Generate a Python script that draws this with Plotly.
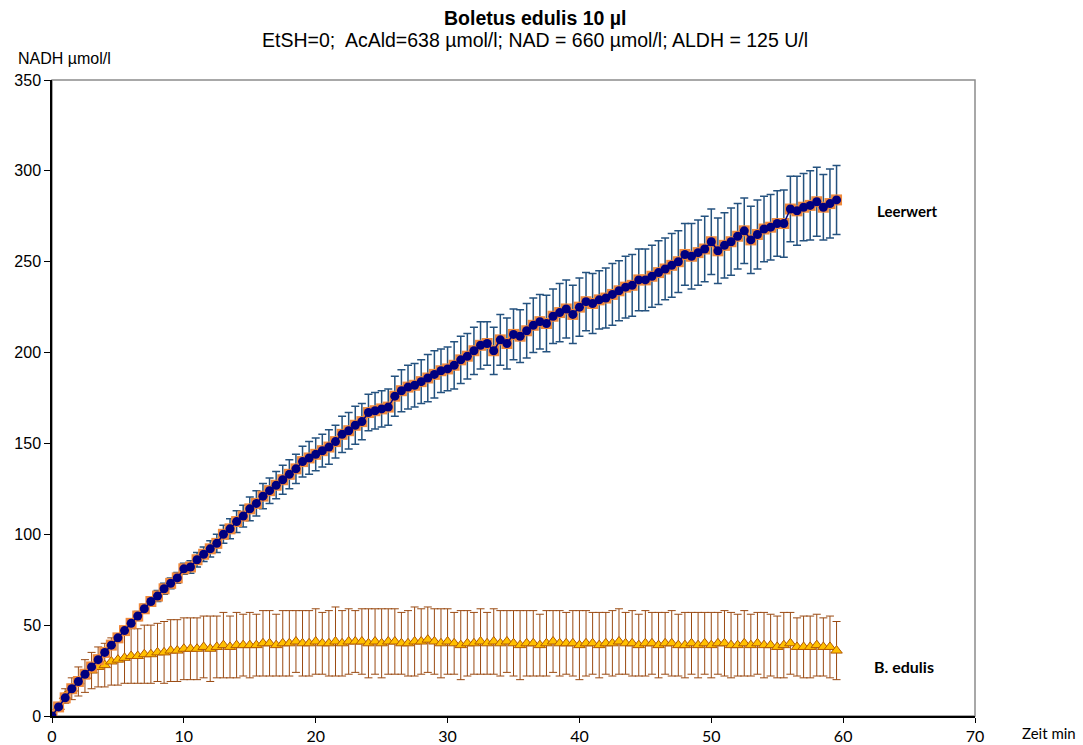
import plotly.graph_objects as go

# time in minutes, 0.5 min steps
time_min = [i * 0.5 for i in range(120)]

leerwert = [
    0, 5, 10, 15, 19, 23, 27, 31, 35, 39,
    43, 47, 51, 55, 59, 63, 66, 70, 73, 76,
    81, 82, 86, 89, 92, 95, 100, 103, 107, 110,
    114, 117, 121, 124, 127, 130, 133, 136, 140, 142,
    144, 146, 148, 151, 155, 157, 160, 162, 167, 168,
    169, 170, 176, 179, 181, 182, 184, 186, 188, 190,
    191, 193, 196, 198, 201, 204, 205, 201, 207, 205,
    210, 209, 212, 215, 217, 216, 220, 222, 224, 221,
    225, 228, 227, 229, 230, 232, 234, 236, 237, 240,
    240, 242, 244, 246, 248, 250, 254, 253, 255, 257,
    261, 256, 259, 261, 264, 267, 262, 265, 268, 269,
    271, 271, 279, 278, 280, 281, 283, 280, 282, 284,
]
leerwert_err = [
    0, 0.5, 0.5, 1, 1, 1, 1.5, 1.5, 1.5, 2,
    2, 2, 2, 2.5, 2.5, 2.5, 3, 3, 3, 3,
    3, 3.5, 4, 4, 4.5, 5, 5, 5.5, 6, 6,
    6.5, 7, 7, 7, 7.5, 8, 8, 8, 8.5, 9,
    9, 9, 9.5, 9, 10, 10, 10.5, 10, 10, 10,
    10, 10, 11, 11.5, 12, 12, 12, 13, 13, 12,
    12, 13, 13, 12.5, 13, 13, 12, 13, 14, 14,
    14, 14.5, 15, 15, 15, 15.5, 15, 16, 16, 16,
    16, 16, 16.5, 16, 16.5, 17, 16.5, 17, 17, 17,
    17, 17, 17.5, 17, 17.5, 17, 17, 18, 18, 18,
    18, 18, 18, 18.5, 18, 18, 18.5, 19, 18, 18,
    18, 18.5, 18, 19, 18.5, 19, 19, 18, 19, 19,
]
b_edulis = [
    0, 5, 11, 15, 19, 22, 25, 27, 28, 30,
    31, 32, 33, 33, 34, 34, 35, 35, 36, 36,
    37, 37, 37, 38, 37, 38, 39, 38, 39, 39,
    39, 39, 40, 40, 39, 40, 40, 41, 40, 40,
    41, 40, 40, 41, 40, 41, 41, 41, 40, 41,
    40, 41, 41, 40, 40, 41, 41, 42, 41, 40,
    41, 40, 39, 40, 40, 41, 40, 41, 40, 41,
    40, 39, 40, 40, 39, 40, 41, 40, 40, 40,
    39, 40, 40, 39, 40, 40, 41, 40, 40, 39,
    40, 40, 39, 40, 40, 39, 39, 40, 39, 40,
    39, 40, 40, 39, 39, 40, 39, 40, 39, 39,
    38, 39, 40, 38, 38, 38, 39, 38, 38, 36,
]
b_edulis_err = [
    0, 2, 4, 6, 8, 9, 10, 11, 12, 13,
    14, 14, 15, 15, 16, 16, 16, 17, 17, 17,
    17, 17, 17, 17, 18, 17, 18, 17, 18, 17,
    18, 17, 18, 18, 17, 18, 18, 17, 18, 18,
    18, 17, 18, 19, 18, 18, 17, 18, 19, 18,
    19, 18, 18, 17, 18, 19, 18, 18, 18, 19,
    18, 17, 19, 18, 17, 18, 17, 18, 18, 17,
    18, 19, 18, 18, 17, 18, 17, 18, 17, 18,
    19, 18, 17, 18, 17, 18, 18, 17, 18, 17,
    18, 17, 18, 17, 18, 17, 18, 17, 18, 17,
    18, 17, 18, 18, 17, 18, 17, 17, 18, 17,
    17, 18, 17, 16, 17, 17, 17, 16, 17, 16,
]

x_ticks = [0, 10, 20, 30, 40, 50, 60, 70]
y_ticks = [0, 50, 100, 150, 200, 250, 300, 350]

fig = go.Figure()

# B. edulis
fig.add_trace(go.Scatter(
    x=time_min, y=b_edulis, mode="lines+markers",
    line=dict(color="#2E8B8B", width=1),
    marker=dict(symbol="triangle-up", size=10, color="#FFC000",
                line=dict(color="#B35A00", width=1)),
    error_y=dict(type="data", array=b_edulis_err, visible=True,
                 color="#9A4A12", thickness=1, width=4),
    showlegend=False, hoverinfo="x+y",
))

# Leerwert orange halo
fig.add_trace(go.Scatter(
    x=time_min, y=leerwert, mode="markers",
    marker=dict(symbol="square", size=11, color="#F08A3C"),
    error_y=dict(type="data", array=leerwert_err, visible=True,
                 color="#24527F", thickness=1.5, width=4),
    showlegend=False, hoverinfo="skip",
))
# Leerwert
fig.add_trace(go.Scatter(
    x=time_min, y=leerwert, mode="lines+markers",
    line=dict(color="#000080", width=1.5),
    marker=dict(symbol="circle", size=9, color="#000080"),
    showlegend=False, hoverinfo="x+y",
))

fig.update_layout(
    width=1083, height=745,
    margin=dict(l=52, r=108, t=80, b=29),
    plot_bgcolor="white", paper_bgcolor="white",
    font=dict(family="Liberation Sans, Arial", size=13, color="black"),
    xaxis=dict(range=[0, 70], tickvals=x_ticks, ticks="outside", ticklen=5,
               tickcolor="black", showline=True, linecolor="black", linewidth=1.5,
               showgrid=False, zeroline=False, automargin=False,
               tickfont=dict(family="Lato, Open Sans", size=16)),
    yaxis=dict(range=[0, 350], tickvals=y_ticks, ticks="outside", ticklen=6,
               tickcolor="black", showline=True, linecolor="black", linewidth=1.5,
               showgrid=False, zeroline=False, automargin=False,
               tickfont=dict(family="Liberation Sans, Arial", size=16)),
    shapes=[dict(type="rect", xref="paper", yref="paper", x0=0, x1=1, y0=0, y1=1,
                 line=dict(color="#8C8C8C", width=1.5), layer="below")],
    annotations=[
        dict(text="<b>Boletus edulis 10 µl</b>", xref="paper", yref="paper",
             x=0.523, y=1, yanchor="middle", yshift=62, showarrow=False,
             font=dict(family="Liberation Sans, Arial", size=19.5)),
        dict(text="EtSH=0;  AcAld=638 µmol/l; NAD = 660 µmol/l; ALDH = 125 U/l",
             xref="paper", yref="paper", x=0.523, y=1, yanchor="middle", yshift=40,
             showarrow=False,
             font=dict(family="Liberation Sans, Arial", size=19.5)),
        dict(text="NADH µmol/l", xref="paper", yref="paper", x=0, xshift=-36,
             y=1, yanchor="middle", yshift=22, xanchor="left", showarrow=False,
             font=dict(family="Liberation Sans, Arial", size=16)),
        dict(text="Zeit min", xref="paper", yref="paper", x=1, xshift=45,
             y=0, yanchor="middle", yshift=-17, xanchor="left", showarrow=False,
             font=dict(family="Lato, Open Sans", size=15)),
        dict(text="<b>Leerwert</b>", x=64.9, y=278, xref="x", yref="y",
             showarrow=False, font=dict(family="Lato, Open Sans", size=15)),
        dict(text="<b>B. edulis</b>", x=64.6, y=27, xref="x", yref="y",
             showarrow=False, font=dict(family="Lato, Open Sans", size=16)),
    ],
)

fig.write_html("out.html")
